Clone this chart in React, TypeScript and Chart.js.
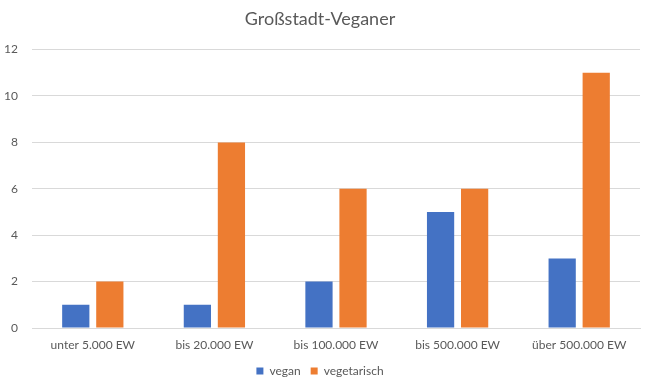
import React, { useEffect, useRef } from "react";
import { Chart, registerables } from "chart.js";

Chart.register(...registerables);

const categories = ["unter 5.000 EW", "bis 20.000 EW", "bis 100.000 EW", "bis 500.000 EW", "über 500.000 EW"];
const vegan = [1, 1, 2, 5, 3];
const vegetarisch = [2, 8, 6, 6, 11];
const yTicks = [0, 2, 4, 6, 8, 10, 12];
const title = "Großstadt-Veganer";

const FONT = "Lato, 'Liberation Sans Narrow', sans-serif";
const TEXT = "#595959";

export default function App() {
  const ref = useRef<HTMLCanvasElement>(null);
  useEffect(() => {
    document.body.style.margin = "0";
    const chart = new Chart(ref.current!, {
      type: "bar",
      data: {
        labels: categories,
        datasets: [
          { label: "vegan", data: vegan, backgroundColor: "#4472C4", barPercentage: 0.8, categoryPercentage: 0.56 },
          { label: "vegetarisch", data: vegetarisch, backgroundColor: "#ED7D31", barPercentage: 0.8, categoryPercentage: 0.56 },
        ],
      },
      options: {
        animation: false,
        responsive: false,
        layout: { padding: { left: 0, right: 16, top: 0, bottom: 3 } },
        plugins: {
          title: {
            display: true,
            text: title,
            color: TEXT,
            font: { family: FONT, size: 18, weight: "normal" },
            padding: { top: 8, bottom: 20 },
          },
          legend: {
            position: "bottom",
            labels: {
              color: TEXT,
              font: { family: FONT, size: 12 },
              boxWidth: 7,
              boxHeight: 7,
              padding: 10,
            },
          },
          tooltip: { enabled: false },
        },
        scales: {
          x: {
            grid: { display: false, drawTicks: false },
            border: { color: "#D9D9D9" },
            ticks: { color: TEXT, font: { family: FONT, size: 12 }, padding: 10, maxRotation: 0 },
            afterFit: (s: any) => { s.height = 27; },
          },
          y: {
            min: 0,
            max: 12,
            afterBuildTicks: (s: any) => { s.ticks = yTicks.map((v) => ({ value: v })); },
            grid: { color: "#D9D9D9", drawTicks: false },
            border: { display: false },
            ticks: { color: TEXT, font: { family: FONT, size: 12 }, padding: 14 },
            afterFit: (s: any) => { s.width = 32; },
          },
        },
      },
    });
    return () => chart.destroy();
  }, []);
  return <canvas ref={ref} width={656} height={390} style={{ display: "block" }} />;
}
